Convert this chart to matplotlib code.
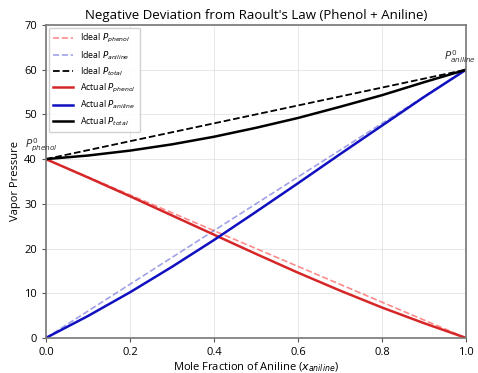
import matplotlib
matplotlib.use('Agg')
import matplotlib.pyplot as plt

# ── Data ──────────────────────────────────────────────────────────
x_ideal = [0.0, 1.0]
ideal_phenol = [40, 0]
ideal_aniline = [0, 60]
ideal_total = [40, 60]

x_aniline = [0.0, 0.1, 0.2, 0.3, 0.4, 0.5, 0.6, 0.7, 0.8, 0.9, 1.0]
actual_phenol = [40, 35.9, 31.7, 27.4, 23.1, 18.8, 14.6, 10.6, 6.8, 3.3, 0]
actual_aniline = [0, 4.9, 10.2, 15.9, 21.9, 28.2, 34.6, 41.1, 47.5, 53.9, 60]
actual_total = [40, 40.8, 41.9, 43.3, 45.0, 47.0, 49.2, 51.7, 54.3, 57.2, 60]

plt.rcParams['font.family'] = ['Open Sans', 'DejaVu Sans']
plt.rcParams['mathtext.fontset'] = 'dejavusans'

fig = plt.figure(figsize=(4.78, 3.73), dpi=100)
ax = fig.add_axes([0.096, 0.094, 0.879, 0.839])

ax.plot(x_ideal, ideal_phenol, '--', color='red', alpha=0.45, lw=1.2, label=r'Ideal $P_{phenol}$')
ax.plot(x_ideal, ideal_aniline, '--', color='#3030cc', alpha=0.45, lw=1.2, label=r'Ideal $P_{aniline}$')
ax.plot(x_ideal, ideal_total, '--', color='black', lw=1.3, label=r'Ideal $P_{total}$')
ax.plot(x_aniline, actual_phenol, '-', color='#d62728', lw=1.8, label=r'Actual $P_{phenol}$')
ax.plot(x_aniline, actual_aniline, '-', color='#1010c0', lw=1.8, label=r'Actual $P_{aniline}$')
ax.plot(x_aniline, actual_total, '-', color='black', lw=1.8, label=r'Actual $P_{total}$')

ax.text(-0.01, 41.2, r'$P^0_{phenol}$', ha='center', va='bottom', fontsize=7.5, color='#333333', clip_on=False)
ax.text(0.985, 61.0, r'$P^0_{aniline}$', ha='center', va='bottom', fontsize=7.5, color='#333333', clip_on=False)

ax.set_xlim(0, 1)
ax.set_ylim(0, 70)
ax.set_xticks([0, 0.2, 0.4, 0.6, 0.8, 1.0])
ax.set_yticks(range(0, 71, 10))
ax.tick_params(labelsize=8, color='#555555', length=3)
ax.grid(True, color='#dddddd', lw=0.6, alpha=0.8)
for s in ax.spines.values():
    s.set_color('#777777')
    s.set_linewidth(1.2)

ax.set_xlabel(r'Mole Fraction of Aniline ($x_{aniline}$)', fontsize=8, labelpad=2)
ax.set_ylabel('Vapor Pressure', fontsize=8, labelpad=2)
ax.set_title("Negative Deviation from Raoult's Law (Phenol + Aniline)", fontsize=9.5, pad=4)

ax.legend(loc='upper left', fontsize=6.3, framealpha=0.9, edgecolor='#cccccc',
          handlelength=2.3, labelspacing=0.45, borderpad=0.5, borderaxespad=0.3)

fig.savefig('out.png', dpi=100)
